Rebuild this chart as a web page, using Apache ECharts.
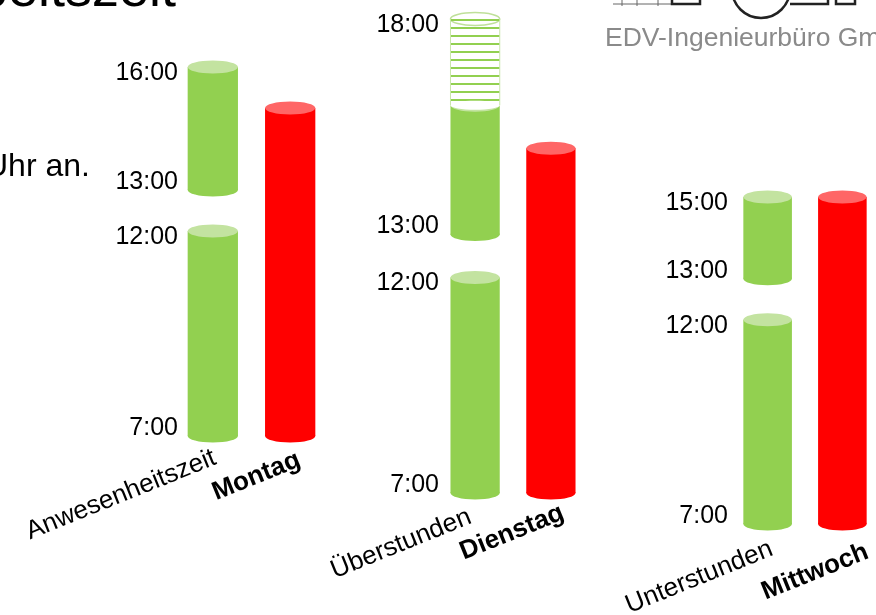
<!DOCTYPE html>
<html>
<head>
<meta charset="utf-8">
<script src="https://cdn.jsdelivr.net/npm/echarts@6/dist/echarts.min.js"></script>
<style>
html, body { margin: 0; padding: 0; background: #fff; }
#chart { width: 876px; height: 615px; }
</style>
</head>
<body>
<div id="chart"></div>
<script>
// Tage und Beschriftungen unter den Säulen
var tage = ['Montag', 'Dienstag', 'Mittwoch'];
var zeitArten = ['Anwesenheitszeit', 'Überstunden', 'Unterstunden'];

// Anwesenheit je Tag: [von, bis] in Stunden
var montagZeiten = [[7, 12], [13, 16]];
var dienstagZeiten = [[7, 12], [13, 16]];
var dienstagUeberstunden = [[16, 18]];
var mittwochZeiten = [[7, 12], [13, 15]];

// Sollzeit (rote Säule) ab Arbeitsbeginn
var arbeitsBeginn = 7;
var sollStunden = 8;

// beschriftete Uhrzeiten je Tag
var montagTicks = [7, 12, 13, 16];
var dienstagTicks = [7, 12, 13, 18];
var mittwochTicks = [7, 12, 13, 15];

var schrift = '"Liberation Sans", Arial, sans-serif';
var GRUEN = 0, ROT = 1, SCHRAFFUR = 2;
var farben = [
    { body: '#92D050', top: '#C3E3A0' },
    { body: '#FF0000', top: '#FF6666' }
];

// Lage der drei Teildiagramme auf der Folie
var panels = [
    { zeiten: montagZeiten, ueber: [], ticks: montagTicks, max: 16,
      grid: { left: 178, top: 67, width: 147, height: 369 }, labelMargin: 0,
      textOffset: [[2, 21], [9, 23]] },
    { zeiten: dienstagZeiten, ueber: dienstagUeberstunden, ticks: dienstagTicks, max: 18,
      grid: { left: 441, top: 19, width: 144, height: 474 }, labelMargin: 2,
      textOffset: [[-5, 23], [12, 19]] },
    { zeiten: mittwochZeiten, ueber: [], ticks: mittwochTicks, max: 15,
      grid: { left: 734, top: 197, width: 143, height: 327 }, labelMargin: 6,
      textOffset: [[4, 24], [25, 27]] }
];

// Zylinder zeichnen (Körper, Boden, Deckel)
function zylinder(params, api) {
    var x = api.value(0), art = api.value(3);
    var unten = api.coord([x, api.value(1)]);
    var oben = api.coord([x, api.value(2)]);
    var b = api.size([1, 0])[0] * 0.65;
    var rx = b / 2, ry = 6.5;
    var cx = unten[0], links = cx - rx;
    var hoehe = unten[1] - oben[1];
    var kinder = [];

    if (art === SCHRAFFUR) {
        kinder.push({ type: 'rect', shape: { x: links, y: oben[1], width: b, height: hoehe },
            style: { fill: '#fff' } });
        kinder.push({ type: 'ellipse', shape: { cx: cx, cy: oben[1], rx: rx, ry: ry },
            style: { fill: '#fff', stroke: '#BFE09A', lineWidth: 1.5 } });
        for (var y = Math.round(oben[1]) + 1; y < unten[1] - 3; y += 8) {
            kinder.push({ type: 'line', shape: { x1: links, y1: y, x2: links + b, y2: y },
                style: { stroke: '#92D050', lineWidth: 2 } });
        }
        kinder.push({ type: 'ellipse', shape: { cx: cx, cy: unten[1], rx: rx, ry: 4.5 },
            style: { fill: '#fff' } });
        kinder.push({ type: 'line', shape: { x1: links, y1: oben[1], x2: links, y2: unten[1] },
            style: { stroke: '#C9E6AA', lineWidth: 1 } });
        kinder.push({ type: 'line', shape: { x1: links + b, y1: oben[1], x2: links + b, y2: unten[1] },
            style: { stroke: '#C9E6AA', lineWidth: 1 } });
        return { type: 'group', children: kinder };
    }

    var f = farben[art];
    kinder.push({ type: 'ellipse', shape: { cx: cx, cy: unten[1], rx: rx, ry: ry }, style: { fill: f.body } });
    kinder.push({ type: 'rect', shape: { x: links, y: oben[1], width: b, height: hoehe }, style: { fill: f.body } });
    kinder.push({ type: 'ellipse', shape: { cx: cx, cy: oben[1], rx: rx, ry: ry }, style: { fill: f.top } });
    return { type: 'group', children: kinder };
}

var grids = [], xAxes = [], yAxes = [], series = [];
var zeitText = { color: '#000', fontSize: 25, fontFamily: schrift };

panels.forEach(function (p, i) {
    // Blockenden: Beschriftung etwas unterhalb, Blockanfang etwas oberhalb
    var enden = p.zeiten.concat(p.ueber).map(function (z) { return z[1]; });

    grids.push(p.grid);
    xAxes.push({ type: 'value', gridIndex: i, min: -0.45, max: 1.45, show: false });
    yAxes.push({
        type: 'value', gridIndex: i, min: arbeitsBeginn, max: p.max,
        splitLine: { show: false }, axisLine: { show: false }, axisTick: { show: false },
        axisLabel: {
            customValues: p.ticks, margin: p.labelMargin,
            formatter: function (v) {
                return (enden.indexOf(v) >= 0 ? '{o|' : '{u|') + v + ':00}';
            },
            rich: {
                o: Object.assign({ padding: [12, 0, 0, 0] }, zeitText),
                u: Object.assign({ padding: [0, 0, 16, 0] }, zeitText)
            }
        }
    });

    // Säulen: grün = Anwesenheit, schraffiert = Überstunden, rot = Sollzeit
    var daten = [];
    p.zeiten.forEach(function (z) { daten.push([0, z[0], z[1], GRUEN]); });
    p.ueber.forEach(function (z) { daten.push([0, z[0], z[1], SCHRAFFUR]); });
    daten.push([1, arbeitsBeginn, arbeitsBeginn + sollStunden, ROT]);

    series.push({
        type: 'custom', xAxisIndex: i, yAxisIndex: i, silent: true,
        renderItem: zylinder, data: daten
    });

    // schräge Beschriftung unter den Säulen
    series.push({
        type: 'custom', xAxisIndex: i, yAxisIndex: i, silent: true,
        data: [[0], [1]],
        renderItem: function (params, api) {
            var pos = api.coord([api.value(0), arbeitsBeginn]);
            var off = p.textOffset[params.dataIndex];
            var fett = params.dataIndex === 1;
            return {
                type: 'text', x: pos[0] + off[0], y: pos[1] + off[1],
                rotation: 22 * Math.PI / 180,
                style: {
                    text: fett ? tage[i] : zeitArten[i],
                    align: 'right', verticalAlign: 'middle',
                    font: (fett ? 'bold ' : '') + '26px ' + schrift, fill: '#000'
                }
            };
        }
    });
});

var myChart = echarts.init(document.getElementById('chart'));
myChart.setOption({
    animation: false,
    backgroundColor: '#fff',
    grid: grids,
    xAxis: xAxes,
    yAxis: yAxes,
    series: series,
    graphic: [
        // Folientitel (oben abgeschnitten)
        { type: 'text', x: 176, y: -9, style: { text: 'Arbeitszeit', align: 'right', verticalAlign: 'middle',
            font: '54px ' + schrift, fill: '#000' } },
        { type: 'text', x: -15, y: 167, style: { text: 'Uhr an.', align: 'left', verticalAlign: 'middle',
            font: '32px ' + schrift, fill: '#000' } },
        // Firmenlogo oben rechts
        { type: 'text', x: 605, y: 39, style: { text: 'EDV-Ingenieurbüro GmbH', align: 'left', verticalAlign: 'middle',
            font: '26.5px ' + schrift, fill: '#8a8a8a' } },
        { type: 'polyline', shape: { points: [[613, 4], [672, 4]] }, style: { stroke: '#666', lineWidth: 1 } },
        { type: 'polyline', shape: { points: [[622, 0], [622, 6]] }, style: { stroke: '#666', lineWidth: 1 } },
        { type: 'polyline', shape: { points: [[637, 0], [637, 6]] }, style: { stroke: '#666', lineWidth: 1 } },
        { type: 'polyline', shape: { points: [[658, 0], [658, 6]] }, style: { stroke: '#666', lineWidth: 1 } },
        { type: 'polyline', shape: { points: [[672, -2], [672, 4], [700, 4], [700, -2]] }, style: { stroke: '#222', lineWidth: 2.5, fill: null } },
        { type: 'circle', shape: { cx: 761, cy: -11, r: 29 }, style: { stroke: '#222', lineWidth: 2.5, fill: null } },
        { type: 'polyline', shape: { points: [[790, 4], [828, 4], [828, -2]] }, style: { stroke: '#222', lineWidth: 2.5, fill: null } },
        { type: 'polyline', shape: { points: [[836, -2], [836, 4], [855, 4], [855, -2]] }, style: { stroke: '#222', lineWidth: 2.5, fill: null } }
    ]
});
</script>
</body>
</html>
